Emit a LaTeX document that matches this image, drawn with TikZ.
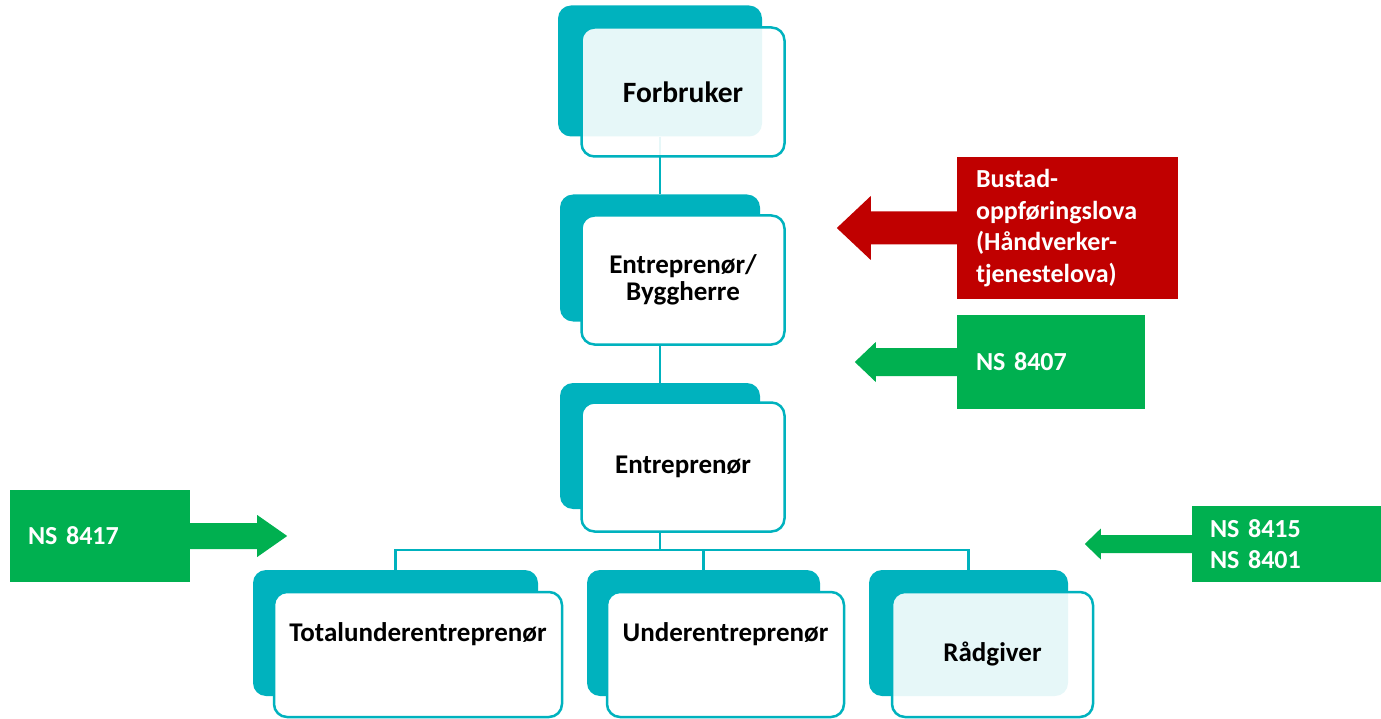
\documentclass[tikz,border=0pt]{standalone}
\usepackage{fontspec}
\setmainfont{Carlito}
\usetikzlibrary{calc}
\definecolor{tealc}{HTML}{00B2BE}
\definecolor{redbox}{HTML}{C00000}
\definecolor{greenbox}{HTML}{00B050}
\tikzset{
  backbox/.style={fill=tealc, draw=none, rounded corners=13pt, inner sep=0pt},
  frontbox/.style={draw=tealc, line width=2.5pt, fill=white, rounded corners=13pt, inner sep=0pt,
    font=\fontsize{27}{27}\selectfont\bfseries, align=center},
  glassbox/.style={frontbox, fill opacity=0.9, text opacity=1},
  boxtext/.style={font=\fontsize{27}{27}\selectfont\bfseries, inner sep=0pt},
  conn/.style={draw=tealc, line width=2.5pt},
  lawbox/.style={text=white, font=\fontsize{26}{31.5}\selectfont\bfseries, align=left, inner ysep=0pt},
}
\begin{document}
\begin{tikzpicture}[x=1pt,y=-1pt]
\useasboundingbox (0,0) rectangle (1381,719);
% back boxes
\node[backbox, minimum width=204pt, minimum height=131pt] (forbB) at (660,71) {};
\node[backbox, minimum width=200pt, minimum height=127pt] (ebB) at (660,258) {};
\node[backbox, minimum width=200pt, minimum height=126pt] (entB) at (660,446) {};
\node[backbox, minimum width=285pt, minimum height=126pt] (totB) at (395.5,633) {};
\node[backbox, minimum width=233pt, minimum height=126pt] (undB) at (703.5,633) {};
\node[backbox, minimum width=199pt, minimum height=126pt] (radB) at (968.5,633) {};
% connectors
\coordinate (bar) at (0,550);
\draw[conn] (forbB.south) -- (ebB.north);
\draw[conn] (ebB.south) -- (entB.north);
\draw[conn] (entB.south) -- (entB.south |- bar) -| (totB.north);
\draw[conn] (entB.south |- bar) -| (undB.north);
\draw[conn] (entB.south |- bar) -| (radB.north);
% front boxes
\node[glassbox, minimum width=203pt, minimum height=129pt, font=\fontsize{29.5}{30}\selectfont\bfseries] (forb) at (683,92) {Forbruker};
\node[frontbox, minimum width=203pt, minimum height=129pt] (eb) at (683,280) {Entreprenør/\\Byggherre};
\node[frontbox, minimum width=203pt, minimum height=129pt] (ent) at (683,467) {Entreprenør};
\node[frontbox, minimum width=288pt, minimum height=125pt] (tot) at (418,654.5) {};
\node[frontbox, minimum width=237pt, minimum height=125pt] (und) at (725.5,654.5) {};
\node[glassbox, minimum width=201pt, minimum height=125pt] (rad) at (992.5,654.5) {Rådgiver};
\node[boxtext] (totT) at (418,634) {Totalunderentreprenør};
\node[boxtext] (undT) at (725.5,634) {Underentreprenør};
% law boxes
\node[lawbox, fill=redbox, inner xsep=19pt, text width=183pt, minimum height=142pt] (bustad) at (1067.5,228)
  {Bustad-\\oppføringslova\\(Håndverker-\\tjenestelova)};
\node[lawbox, fill=greenbox, inner xsep=19pt, text width=150pt, minimum height=94pt] (ns8407) at (1051,362) {NS 8407};
\node[lawbox, fill=greenbox, inner xsep=18pt, text width=144pt, minimum height=92pt] (ns8417) at (100,536) {NS 8417};
\node[lawbox, fill=greenbox, inner xsep=18pt, text width=153pt, minimum height=76pt] (ns8415) at (1286.5,544) {NS 8415\\NS 8401};
% block arrows
\fill[redbox] ($(bustad.west)+(1,-16.5)$) -- ++(-87,0) -- ++(0,-15.5) -- ++(-34,32) -- ++(34,32) -- ++(0,-15.5) -- ++(87,0) -- cycle;
\fill[greenbox] ($(ns8407.west)+(1,-14)$) -- ++(-82,0) -- ++(0,-6) -- ++(-21,20) -- ++(21,20) -- ++(0,-6) -- ++(82,0) -- cycle;
\fill[greenbox] ($(ns8417.east)+(-1,-13)$) -- ++(68,0) -- ++(0,-8) -- ++(30,21) -- ++(-30,21) -- ++(0,-8) -- ++(-68,0) -- cycle;
\fill[greenbox] ($(ns8415.west)+(1,-9)$) -- ++(-92,0) -- ++(0,-6.5) -- ++(-16,15.5) -- ++(16,15.5) -- ++(0,-6.5) -- ++(92,0) -- cycle;
\end{tikzpicture}
\end{document}
